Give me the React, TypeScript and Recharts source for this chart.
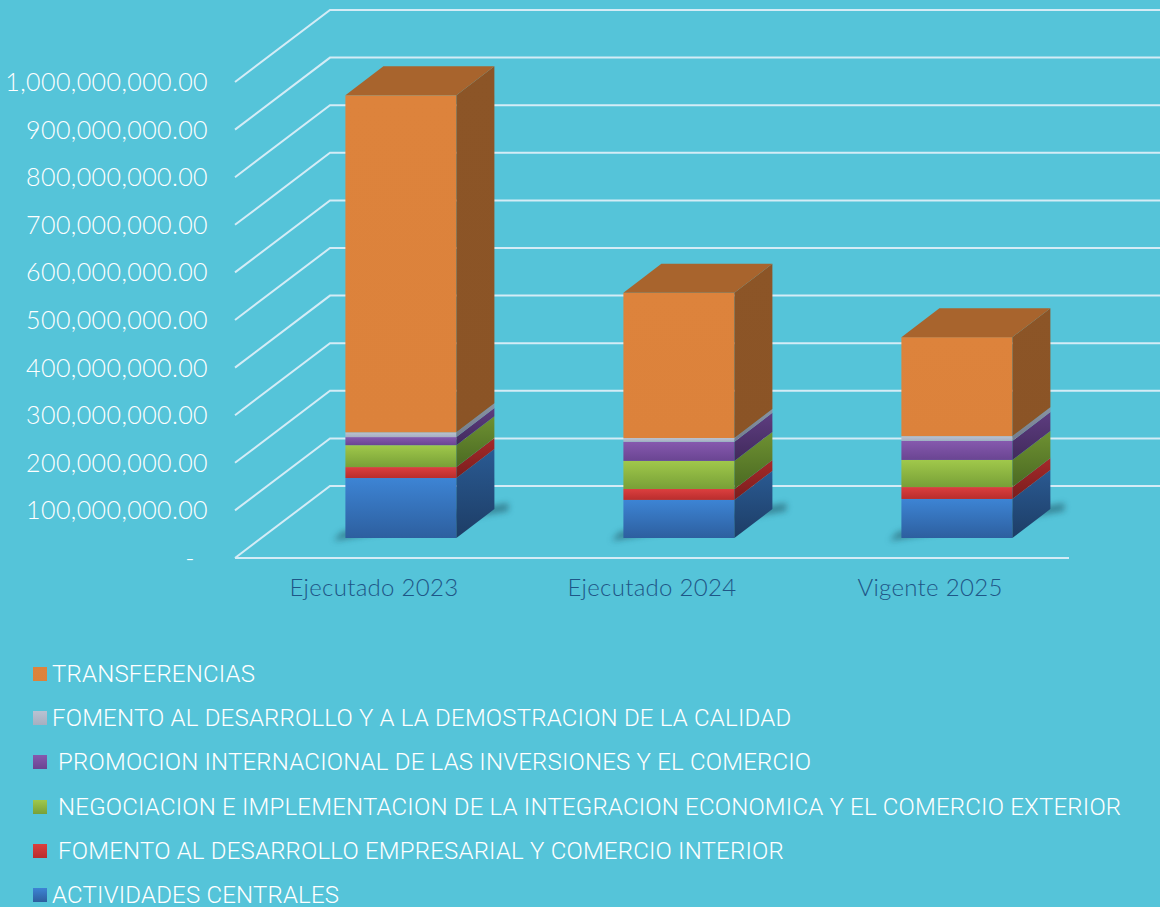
import { Bar, BarChart, CartesianGrid, Legend, XAxis, YAxis } from "recharts"

const categories = ["Ejecutado 2023", "Ejecutado 2024", "Vigente 2025"]
const actividadesCentrales = [126e6, 80e6, 82e6]
const fomentoEmpresarial = [23e6, 23e6, 25e6]
const negociacion = [46e6, 59e6, 57e6]
const promocion = [17e6, 40e6, 40e6]
const fomentoCalidad = [10e6, 8e6, 10e6]
const transferencias = [708e6, 305e6, 208e6]
const yTicks = [0, 1e8, 2e8, 3e8, 4e8, 5e8, 6e8, 7e8, 8e8, 9e8, 1e9]

const data = categories.map((name, i) => ({
  name,
  actividades: actividadesCentrales[i],
  empresarial: fomentoEmpresarial[i],
  negociacion: negociacion[i],
  promocion: promocion[i],
  calidad: fomentoCalidad[i],
  transferencias: transferencias[i],
}))

// bottom to top
const series = [
  { key: "actividades", name: "ACTIVIDADES CENTRALES", front: ["#3d84d4", "#2d5f9f"], side: ["#2a5a92", "#1d3d66"] },
  { key: "empresarial", name: " FOMENTO AL DESARROLLO EMPRESARIAL Y COMERCIO INTERIOR", front: ["#dc3f3f", "#b92d2d"], side: ["#a52a2a", "#7a1d1d"] },
  { key: "negociacion", name: " NEGOCIACION E IMPLEMENTACION DE LA INTEGRACION ECONOMICA Y EL COMERCIO EXTERIOR", front: ["#a0c84b", "#78a037"], side: ["#6e9132", "#4b6a22"] },
  { key: "promocion", name: " PROMOCION INTERNACIONAL DE LAS INVERSIONES Y EL COMERCIO", front: ["#8659ae", "#6a4592"], side: ["#5e3d80", "#412a5c"] },
  { key: "calidad", name: "FOMENTO AL DESARROLLO Y A LA DEMOSTRACION DE LA CALIDAD", front: ["#b9c2d2", "#a6afc0"], side: ["#8a93a3", "#737c8c"] },
  { key: "transferencias", name: "TRANSFERENCIAS", front: ["#dd833c", "#dc823b"], side: ["#8c5527", "#8b5426"], top: "#a8642d" },
]

const BG = "#55c4d9"
const GRID = "#d4ecf6"
// oblique projection offsets: bar depth, bar plane -> front plane, bar plane -> back wall
const DX = 38
const DY = 29
const FRONT_DX = -27
const FRONT_DY = 20
const BACK_DX = 68
const BACK_DY = -52

const make3D = (idx: number) => (props: any) => {
  const { x, y, width, height } = props
  if (!height || height <= 0) return <g />
  const s = series[idx]
  const r = x + width
  const b = y + height
  return (
    <g>
      {idx === 0 && (
        <polygon
          points={`${x - 12},${b + 3} ${r + DX + 14},${b - DY + 2} ${r + DX + 14},${b - DY - 6} ${x - 4},${b - 6}`}
          fill="#1b4f5e"
          opacity={0.55}
          filter="url(#shadowBlur)"
        />
      )}
      <rect x={x} y={y} width={width} height={height} fill={`url(#front-${s.key})`} />
      <polygon
        points={`${r},${y} ${r + DX},${y - DY} ${r + DX},${b - DY} ${r},${b}`}
        fill={`url(#side-${s.key})`}
      />
      {s.top && (
        <polygon
          points={`${x},${y} ${x + DX},${y - DY} ${r + DX},${y - DY} ${r},${y}`}
          fill={s.top}
        />
      )}
    </g>
  )
}

const GridLine = (props: any) => {
  const { x1, x2, y1, index } = props
  const fx = x1 + FRONT_DX
  const fy = y1 + FRONT_DY
  return (
    <g key={`gl-${index}`}>
      <polyline
        points={`${fx},${fy} ${x1 + BACK_DX},${y1 + BACK_DY} ${x2 + BACK_DX + 10},${y1 + BACK_DY}`}
        fill="none"
        stroke={GRID}
        strokeWidth={2}
      />
      {index === 0 && (
        <line x1={fx} y1={fy} x2={x2 + FRONT_DX} y2={fy} stroke={GRID} strokeWidth={2} />
      )}
    </g>
  )
}

const YTick = (props: any) => {
  const { x, y, payload } = props
  const v = payload.value
  const label = v === 0 ? "-" : v.toLocaleString("en-US", { minimumFractionDigits: 2 })
  return (
    <text
      x={v === 0 ? x - 59 : x - 46}
      y={y + FRONT_DY}
      dy="0.36em"
      textAnchor="end"
      fill="#ffffff"
      fontFamily="Lato, sans-serif"
      fontWeight={300}
      fontSize={25}
      letterSpacing={0.4}
    >
      {label}
    </text>
  )
}

const XTick = (props: any) => {
  const { x, y, payload } = props
  return (
    <text
      x={x + FRONT_DX}
      y={y}
      dy={50}
      textAnchor="middle"
      fill="#1f5687"
      fontFamily="Lato, sans-serif"
      fontWeight={300}
      fontSize={24}
      letterSpacing={0.3}
    >
      {payload.value}
    </text>
  )
}

const LegendContent = () => (
  <div
    style={{
      fontFamily: "Roboto, sans-serif",
      fontWeight: 300,
      fontSize: 24,
      letterSpacing: 0.2,
      color: "#ffffff",
    }}
  >
    {[...series].reverse().map((s) => (
      <div key={s.key} style={{ display: "flex", alignItems: "center", height: 44.2, whiteSpace: "pre" }}>
        <span
          style={{
            display: "inline-block",
            width: 14,
            height: 14,
            marginLeft: 33,
            marginRight: 5,
            background: `linear-gradient(${s.front[0]}, ${s.front[1]})`,
          }}
        />
        <span>{s.name}</span>
      </div>
    ))}
  </div>
)

export default function App() {
  return (
    <div style={{ width: 1160, height: 907, background: BG, position: "relative", overflow: "hidden" }}>
      <style>{"body{margin:0}"}</style>
      <BarChart
        width={1160}
        height={907}
        data={data}
        margin={{ top: 62, right: 64, bottom: 329, left: 0 }}
        barCategoryGap="30%"
      >
        <defs>
          <filter id="shadowBlur" x="-20%" y="-50%" width="140%" height="200%">
            <feGaussianBlur stdDeviation="3" />
          </filter>
          {series.map((s) => (
            <linearGradient key={`f-${s.key}`} id={`front-${s.key}`} x1="0" y1="0" x2="0" y2="1">
              <stop offset="0%" stopColor={s.front[0]} />
              <stop offset="100%" stopColor={s.front[1]} />
            </linearGradient>
          ))}
          {series.map((s) => (
            <linearGradient key={`s-${s.key}`} id={`side-${s.key}`} x1="0" y1="0" x2="0" y2="1">
              <stop offset="0%" stopColor={s.side[0]} />
              <stop offset="100%" stopColor={s.side[1]} />
            </linearGradient>
          ))}
        </defs>
        <CartesianGrid vertical={false} horizontal={(p: any) => <GridLine {...p} />} />
        <XAxis dataKey="name" axisLine={false} tickLine={false} height={40} tick={<XTick />} interval={0} />
        <YAxis
          width={262}
          domain={[0, 1e9]}
          ticks={yTicks}
          axisLine={false}
          tickLine={false}
          tick={<YTick />}
          interval={0}
        />
        <Legend
          layout="vertical"
          align="center"
          verticalAlign="middle"
          content={<LegendContent />}
          wrapperStyle={{ position: "absolute", top: 652, left: 0, width: 1160 }}
        />
        {series.map((s, i) => (
          <Bar
            key={s.key}
            dataKey={s.key}
            name={s.name}
            stackId="a"
            fill={s.front[0]}
            shape={make3D(i)}
            isAnimationActive={false}
          />
        ))}
      </BarChart>
    </div>
  )
}
